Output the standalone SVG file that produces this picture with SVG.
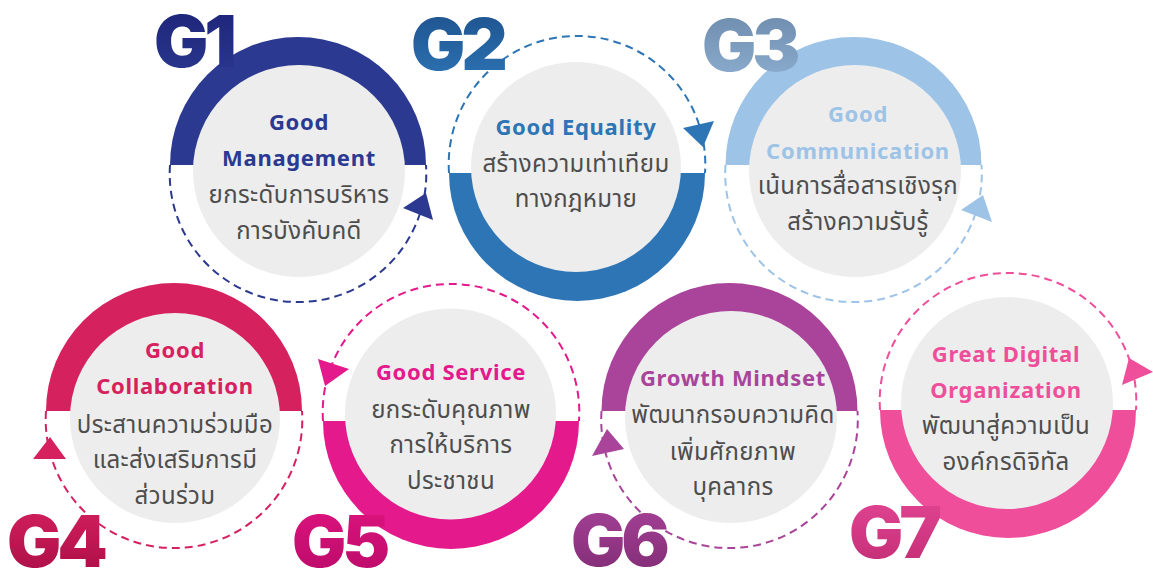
<svg xmlns="http://www.w3.org/2000/svg" width="1153" height="570" viewBox="0 0 1153 570">
<defs>
<style>
.gray{fill:#EDEDED}
.dash{fill:none;stroke-width:2;stroke-dasharray:8 5}
.title{font-family:"Noto Sans","Open Sans",sans-serif;font-weight:700;font-size:22px;letter-spacing:0.7px;text-anchor:middle}
.thai{font-family:"Noto Sans Thai","Noto Sans",sans-serif;font-size:24px;letter-spacing:0.4px;fill:#4D4D4D;text-anchor:middle}
.lbl{font-family:Inter,"Open Sans",sans-serif;font-weight:900;font-size:72px;letter-spacing:-4px}
</style>
<linearGradient id="g1" x1="0" y1="0" x2="0" y2="1"><stop offset="0" stop-color="#1B2275"/><stop offset="1" stop-color="#2B3990"/></linearGradient>
<linearGradient id="g2" x1="0" y1="0" x2="0" y2="1"><stop offset="0" stop-color="#1C4F8A"/><stop offset="1" stop-color="#2E75B6"/></linearGradient>
<linearGradient id="g3" x1="0" y1="0" x2="0" y2="1"><stop offset="0" stop-color="#6A88A8"/><stop offset="1" stop-color="#8FB0D3"/></linearGradient>
<linearGradient id="g4" x1="0" y1="0" x2="0" y2="1"><stop offset="0" stop-color="#D6215F"/><stop offset="1" stop-color="#A80D45"/></linearGradient>
<linearGradient id="g5" x1="0" y1="0" x2="0" y2="1"><stop offset="0" stop-color="#E0147F"/><stop offset="1" stop-color="#B80A68"/></linearGradient>
<linearGradient id="g6" x1="0" y1="0" x2="0" y2="1"><stop offset="0" stop-color="#A9449A"/><stop offset="1" stop-color="#7E2A72"/></linearGradient>
<linearGradient id="g7" x1="0" y1="0" x2="0" y2="1"><stop offset="0" stop-color="#E54796"/><stop offset="1" stop-color="#C02C73"/></linearGradient>
</defs>
<rect width="1153" height="570" fill="#FFFFFF"/>

<g id="connectors">
<path class="dash" stroke="#2B3990" d="M170,165 A128.3,128.3 0 1 0 426,165"/>
<polygon fill="#2B3990" points="403,208 426,193 433,220"/>
<path class="dash" stroke="#2E75B6" d="M449,173 A128.3,128.3 0 1 1 705,173"/>
<polygon fill="#2E75B6" points="683,128 714,121 703,147"/>
<path class="dash" stroke="#9DC3E6" d="M725.5,165 A128.3,128.3 0 1 0 981.5,165"/>
<polygon fill="#9DC3E6" points="961,210 983,195 992,222"/>
<path class="dash" stroke="#D6215F" d="M46,411 A128.3,128.3 0 1 0 302,411"/>
<polygon fill="#D6215F" points="33,459 50,437 66,459"/>
<path class="dash" stroke="#E3198C" d="M323,421 A128.3,128.3 0 1 1 579,421"/>
<polygon fill="#E3198C" points="318,359 349,369 325,386"/>
<path class="dash" stroke="#A9449A" d="M601.5,411 A128.3,128.3 0 1 0 857.5,411"/>
<polygon fill="#A9449A" points="592,456 607,429 624,449"/>
<path class="dash" stroke="#EF4F9A" d="M880,410 A128.3,128.3 0 1 1 1136,410"/>
<polygon fill="#EF4F9A" points="1122,385 1129,358 1153,372"/>
</g>

<g id="node-g1">
<path fill="#2B3990" d="M170,165 A128,128 0 0 1 426,165 Z"/>
<circle class="gray" cx="299" cy="171" r="106"/>
<text class="title" fill="#2B3990" x="299" y="130">Good</text>
<text class="title" fill="#2B3990" x="299" y="166">Management</text>
<text class="thai" x="299" y="203">ยกระดับการบริหาร</text>
<text class="thai" x="299" y="239">การบังคับคดี</text>
<text class="lbl" fill="url(#g1)" x="154" y="67">G1</text>
</g>

<g id="node-g2">
<path fill="#2E75B6" d="M449,173 A128,128 0 0 0 705,173 Z"/>
<circle class="gray" cx="576" cy="167" r="105"/>
<text class="title" fill="#2E75B6" x="576" y="135">Good Equality</text>
<text class="thai" x="576" y="172">สร้างความเท่าเทียม</text>
<text class="thai" x="576" y="207">ทางกฎหมาย</text>
<text class="lbl" fill="url(#g2)" x="411" y="70">G2</text>
</g>

<g id="node-g3">
<path fill="#9DC3E6" d="M725.5,165 A128,128 0 0 1 981.5,165 Z"/>
<circle class="gray" cx="855" cy="171" r="106"/>
<text class="title" fill="#9DC3E6" x="858" y="122">Good</text>
<text class="title" fill="#9DC3E6" x="858" y="159">Communication</text>
<text class="thai" x="858" y="194">เน้นการสื่อสารเชิงรุก</text>
<text class="thai" x="858" y="230">สร้างความรับรู้</text>
<text class="lbl" fill="url(#g3)" x="702" y="71">G3</text>
</g>

<g id="node-g4">
<path fill="#D6215F" d="M46,411 A128,128 0 0 1 302,411 Z"/>
<circle class="gray" cx="175" cy="418" r="105"/>
<text class="title" fill="#D6215F" x="175" y="358">Good</text>
<text class="title" fill="#D6215F" x="175" y="394">Collaboration</text>
<text class="thai" x="175" y="433">ประสานความร่วมมือ</text>
<text class="thai" x="175" y="468">และส่งเสริมการมี</text>
<text class="thai" x="175" y="504">ส่วนร่วม</text>
<text class="lbl" fill="url(#g4)" x="7" y="567">G4</text>
</g>

<g id="node-g5">
<path fill="#E3198C" d="M323,421 A128,128 0 0 0 579,421 Z"/>
<circle class="gray" cx="450.5" cy="414" r="105.5"/>
<text class="title" fill="#E3198C" x="451" y="380">Good Service</text>
<text class="thai" x="451" y="418">ยกระดับคุณภาพ</text>
<text class="thai" x="451" y="453">การให้บริการ</text>
<text class="thai" x="451" y="489">ประชาชน</text>
<text class="lbl" fill="url(#g5)" x="292" y="567">G5</text>
</g>

<g id="node-g6">
<path fill="#A9449A" d="M601.5,411 A128,128 0 0 1 857.5,411 Z"/>
<circle class="gray" cx="731" cy="417" r="106"/>
<text class="title" fill="#A9449A" x="733" y="386">Growth Mindset</text>
<text class="thai" x="733" y="423">พัฒนากรอบความคิด</text>
<text class="thai" x="733" y="460">เพิ่มศักยภาพ</text>
<text class="thai" x="733" y="495">บุคลากร</text>
<text class="lbl" fill="url(#g6)" x="571" y="566">G6</text>
</g>

<g id="node-g7">
<path fill="#EF4F9A" d="M880,410 A128,128 0 0 0 1136,410 Z"/>
<circle class="gray" cx="1007" cy="403" r="106"/>
<text class="title" fill="#EF4F9A" x="1006" y="362">Great Digital</text>
<text class="title" fill="#EF4F9A" x="1006" y="398">Organization</text>
<text class="thai" x="1006" y="434">พัฒนาสู่ความเป็น</text>
<text class="thai" x="1006" y="470">องค์กรดิจิทัล</text>
<text class="lbl" fill="url(#g7)" x="849" y="558">G7</text>
</g>
</svg>
